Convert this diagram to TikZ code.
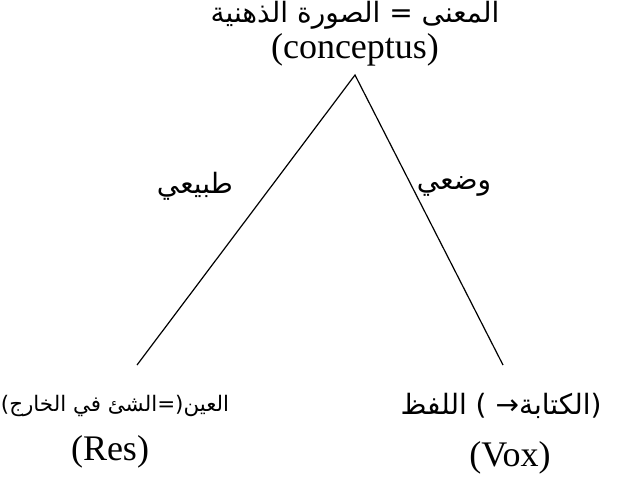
\documentclass[tikz,border=0pt]{standalone}
\usepackage{fontspec}
\setmainfont{Liberation Serif}
\newfontfamily\arabicfont[Script=Arabic]{DejaVu Sans}
\TeXXeTstate=1
\usetikzlibrary{positioning}
\tikzset{
  lat/.style={font=\fontsize{18}{22}\selectfont,inner sep=0pt},
  arb/.style={font=\fontsize{14}{18}\selectfont\arabicfont,inner sep=0pt},
  arbsmall/.style={font=\fontsize{10.7}{15}\selectfont\arabicfont,inner sep=0pt},
}

\begin{document}
\begin{tikzpicture}[x=0.5pt,y=-0.5pt,line width=0.6pt]
  \useasboundingbox (0,0) rectangle (620,481);
  % corners of the triangle
  \coordinate (apex) at (355,75);
  \coordinate (res) at (137,365);
  \coordinate (vox) at (503,365);
  \draw (res) -- (apex) -- (vox);
  % top
  \node[arb] (mana) at (355,15) {\beginR المعنى = الصورة الذهنية\endR};
  \node[lat] (conc) at (355,50) {(conceptus)};
  % sides
  \node[arb] (tabii) at (195,186) {\beginR طبيعي\endR};
  \node[arb] (wadi) at (454,186) {\beginR وضعي\endR};
  % bottom left
  \node[arbsmall] (ayn) at (115,406) {\beginR العين(=الشئ في الخارج)\endR};
  \node[lat] (rs) at (110,452) {(Res)};
  % bottom right
  \node[arb] (lafz) at (501,406) {\beginR (الكتابة→ ) اللفظ\endR};
  \node[lat] (vx) at (510,458) {(Vox)};
\end{tikzpicture}
\end{document}
